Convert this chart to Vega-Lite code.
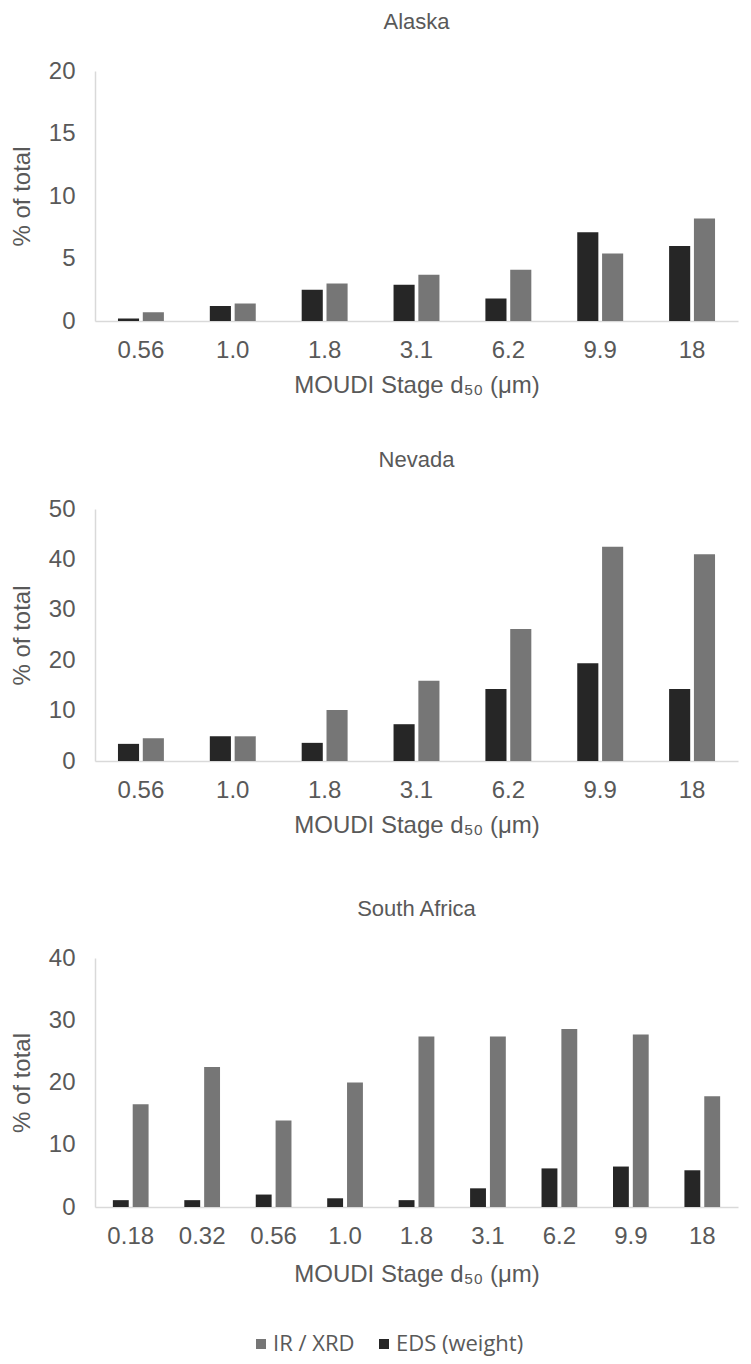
{
  "$schema": "https://vega.github.io/schema/vega-lite/v6.json",
  "padding": {"left": 10, "top": 11, "right": 6, "bottom": 6},
  "datasets": {
    "alaska": [
      {"stage": "0.56", "method": "EDS (weight)", "pct": 0.2},
      {"stage": "0.56", "method": "IR / XRD", "pct": 0.7},
      {"stage": "1.0", "method": "EDS (weight)", "pct": 1.2},
      {"stage": "1.0", "method": "IR / XRD", "pct": 1.4},
      {"stage": "1.8", "method": "EDS (weight)", "pct": 2.5},
      {"stage": "1.8", "method": "IR / XRD", "pct": 3.0},
      {"stage": "3.1", "method": "EDS (weight)", "pct": 2.9},
      {"stage": "3.1", "method": "IR / XRD", "pct": 3.7},
      {"stage": "6.2", "method": "EDS (weight)", "pct": 1.8},
      {"stage": "6.2", "method": "IR / XRD", "pct": 4.1},
      {"stage": "9.9", "method": "EDS (weight)", "pct": 7.1},
      {"stage": "9.9", "method": "IR / XRD", "pct": 5.4},
      {"stage": "18", "method": "EDS (weight)", "pct": 6.0},
      {"stage": "18", "method": "IR / XRD", "pct": 8.2}
    ],
    "nevada": [
      {"stage": "0.56", "method": "EDS (weight)", "pct": 3.4},
      {"stage": "0.56", "method": "IR / XRD", "pct": 4.5},
      {"stage": "1.0", "method": "EDS (weight)", "pct": 4.9},
      {"stage": "1.0", "method": "IR / XRD", "pct": 4.9},
      {"stage": "1.8", "method": "EDS (weight)", "pct": 3.6},
      {"stage": "1.8", "method": "IR / XRD", "pct": 10.1},
      {"stage": "3.1", "method": "EDS (weight)", "pct": 7.3},
      {"stage": "3.1", "method": "IR / XRD", "pct": 15.9},
      {"stage": "6.2", "method": "EDS (weight)", "pct": 14.3},
      {"stage": "6.2", "method": "IR / XRD", "pct": 26.2},
      {"stage": "9.9", "method": "EDS (weight)", "pct": 19.4},
      {"stage": "9.9", "method": "IR / XRD", "pct": 42.5},
      {"stage": "18", "method": "EDS (weight)", "pct": 14.3},
      {"stage": "18", "method": "IR / XRD", "pct": 41.0}
    ],
    "southafrica": [
      {"stage": "0.18", "method": "EDS (weight)", "pct": 1.1},
      {"stage": "0.18", "method": "IR / XRD", "pct": 16.5},
      {"stage": "0.32", "method": "EDS (weight)", "pct": 1.1},
      {"stage": "0.32", "method": "IR / XRD", "pct": 22.5},
      {"stage": "0.56", "method": "EDS (weight)", "pct": 2.0},
      {"stage": "0.56", "method": "IR / XRD", "pct": 13.9},
      {"stage": "1.0", "method": "EDS (weight)", "pct": 1.4},
      {"stage": "1.0", "method": "IR / XRD", "pct": 20.0},
      {"stage": "1.8", "method": "EDS (weight)", "pct": 1.1},
      {"stage": "1.8", "method": "IR / XRD", "pct": 27.4},
      {"stage": "3.1", "method": "EDS (weight)", "pct": 3.0},
      {"stage": "3.1", "method": "IR / XRD", "pct": 27.4},
      {"stage": "6.2", "method": "EDS (weight)", "pct": 6.2},
      {"stage": "6.2", "method": "IR / XRD", "pct": 28.6},
      {"stage": "9.9", "method": "EDS (weight)", "pct": 6.5},
      {"stage": "9.9", "method": "IR / XRD", "pct": 27.7},
      {"stage": "18", "method": "EDS (weight)", "pct": 5.9},
      {"stage": "18", "method": "IR / XRD", "pct": 17.8}
    ]
  },
  "vconcat": [
    {
      "vconcat": [
        {
          "title": {"text": "Alaska"},
          "data": {"name": "alaska"},
          "width": 643,
          "height": 250,
          "mark": {"type": "bar"},
          "encoding": {
            "x": {"field": "stage", "type": "nominal", "sort": ["0.56", "1.0", "1.8", "3.1", "6.2", "9.9", "18"],
                  "scale": {"paddingInner": 0.5, "paddingOuter": 0.25},
                  "axis": {"title": "MOUDI Stage d₅₀ (μm)", "labelAngle": 0}},
            "xOffset": {"field": "method", "type": "nominal", "sort": ["EDS (weight)", "IR / XRD"], "scale": {"paddingInner": 0.15, "paddingOuter": 0}},
            "y": {"field": "pct", "type": "quantitative", "scale": {"domain": [0, 20]},
                  "axis": {"title": "% of total", "values": [0, 5, 10, 15, 20]}},
            "color": {"field": "method", "type": "nominal",
                      "scale": {"domain": ["IR / XRD", "EDS (weight)"], "range": ["#767676", "#262626"]},
                      "legend": {"title": " ", "titleOrient": "right", "titlePadding": 60, "orient": "bottom", "direction": "horizontal", "offset": 47}}
          }
        },
        {
          "title": {"text": "Nevada"},
          "data": {"name": "nevada"},
          "width": 643,
          "height": 252,
          "mark": {"type": "bar"},
          "encoding": {
            "x": {"field": "stage", "type": "nominal", "sort": ["0.56", "1.0", "1.8", "3.1", "6.2", "9.9", "18"],
                  "scale": {"paddingInner": 0.5, "paddingOuter": 0.25},
                  "axis": {"title": "MOUDI Stage d₅₀ (μm)", "labelAngle": 0}},
            "xOffset": {"field": "method", "type": "nominal", "sort": ["EDS (weight)", "IR / XRD"], "scale": {"paddingInner": 0.15, "paddingOuter": 0}},
            "y": {"field": "pct", "type": "quantitative", "scale": {"domain": [0, 50]},
                  "axis": {"title": "% of total", "values": [0, 10, 20, 30, 40, 50]}},
            "color": {"field": "method", "type": "nominal"}
          }
        }
      ],
      "spacing": 52,
      "resolve": {"scale": {"x": "independent", "y": "independent", "xOffset": "independent"}}
    },
    {
      "title": {"text": "South Africa"},
      "data": {"name": "southafrica"},
      "width": 643,
      "height": 249,
      "mark": {"type": "bar"},
      "encoding": {
        "x": {"field": "stage", "type": "nominal", "sort": ["0.18", "0.32", "0.56", "1.0", "1.8", "3.1", "6.2", "9.9", "18"],
              "scale": {"paddingInner": 0.5, "paddingOuter": 0.25},
              "axis": {"title": "MOUDI Stage d₅₀ (μm)", "labelAngle": 0, "titlePadding": 14}},
        "xOffset": {"field": "method", "type": "nominal", "sort": ["EDS (weight)", "IR / XRD"], "scale": {"paddingInner": 0.2, "paddingOuter": 0}},
        "y": {"field": "pct", "type": "quantitative", "scale": {"domain": [0, 40]},
              "axis": {"title": "% of total", "values": [0, 10, 20, 30, 40]}},
        "color": {"field": "method", "type": "nominal"}
      }
    }
  ],
  "resolve": {"scale": {"x": "independent", "y": "independent", "xOffset": "independent"}},
  "spacing": 61,
  "config": {
    "view": {"stroke": null},
    "axis": {
      "domainColor": "#d9d9d9",
      "domainWidth": 1.5,
      "ticks": false,
      "grid": false,
      "labelFont": "Liberation Sans",
      "labelFontSize": 24,
      "labelColor": "#595959",
      "titleFont": "Liberation Sans",
      "titleFontSize": 24,
      "titleColor": "#595959",
      "titleFontWeight": "normal"
    },
    "axisX": {"labelPadding": 17, "titlePadding": 11},
    "axisY": {"labelPadding": 20, "titlePadding": 14},
    "title": {"font": "Liberation Sans", "fontSize": 22, "fontWeight": "normal", "color": "#595959", "offset": 25},
    "legend": {"labelFont": "Open Sans", "labelFontSize": 22, "labelColor": "#595959", "labelOffset": 1, "symbolType": "square", "symbolSize": 100, "symbolStrokeWidth": 0, "columnPadding": 18, "layout": {"bottom": {"anchor": "middle"}}}
  }
}
